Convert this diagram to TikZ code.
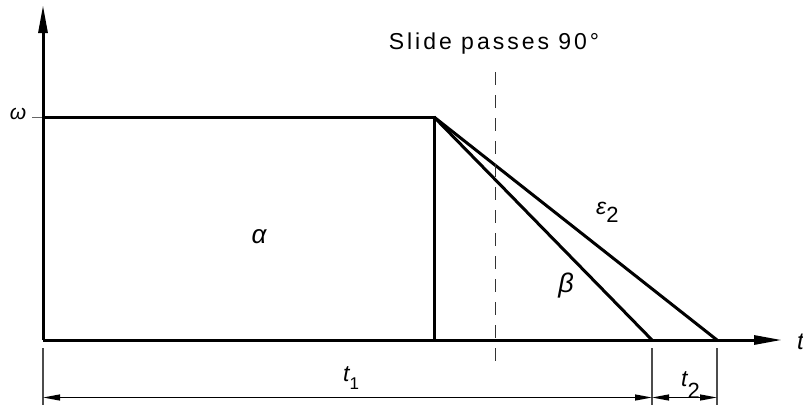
\documentclass[tikz,border=0pt]{standalone}
\usepackage{fontspec}
\setmainfont{Liberation Sans}
\newfontfamily\spaced[LetterSpace=13]{Liberation Sans}
\usetikzlibrary{arrows.meta}
\tikzset{
  axis/.style={line width=3pt, -{Triangle[length=28pt,width=9pt]}},
  thick line/.style={line width=3pt, line join=miter},
  dimline/.style={line width=1.2pt, {Triangle[length=17pt,width=6pt]}-{Triangle[length=17pt,width=6pt]}},
  extline/.style={line width=1.2pt, black!70},
  lbl/.style={inner sep=0pt, font=\itshape},
}
\newcommand{\fs}[1]{\fontsize{#1}{#1}\selectfont}
\begin{document}
\begin{tikzpicture}[x=1pt,y=-1pt]
\useasboundingbox (0,0) rectangle (803,410);
% key points
\coordinate (O) at (43,340);
\coordinate (Ytop) at (43,5);
\coordinate (Xend) at (782,340);
\coordinate (W) at (43,117);
\coordinate (P) at (434,117);
\coordinate (Pb) at (434,340);
\coordinate (B) at (652,340);
\coordinate (E) at (717,340);
\coordinate (Tk) at (32,117);
\coordinate (Dtop) at (495,72);
\coordinate (Dbot) at (495,370);
% extension line ends
\coordinate (e1t) at (43,348);  \coordinate (e1b) at (43,405);
\coordinate (e2t) at (652,348); \coordinate (e2b) at (652,405);
\coordinate (e3t) at (717,348); \coordinate (e3b) at (717,405);
\coordinate (d1) at (43,397.5); \coordinate (d2) at (652,397.5); \coordinate (d3) at (717,397.5);

% tick
\draw[line width=1pt, black!60] (Tk) -- (W);
% axes
\draw[axis] (O) -- (Ytop);
\draw[axis] (O) -- (Xend);
% rectangle and slopes
\draw[thick line] (W) -- (P) -- (Pb);
\draw[thick line] (P) -- (B);
\draw[thick line] (P) -- (E);
% dashed line
\draw[line width=1pt, black!80, dash pattern=on 13pt off 10pt] (Dtop) -- (Dbot);
% dimensions
\draw[extline] (e1t) -- (e1b);
\draw[extline] (e2t) -- (e2b);
\draw[extline] (e3t) -- (e3b);
\draw[dimline] (d1) -- (d2);
\draw[dimline] (d2) -- (d3);

% labels
\node[inner sep=0pt] (slide) at (494,44) {\fs{23}\spaced Slide passes 90°};
\node[lbl] (omega) at (18,114) {\fs{21}ω};
\node[lbl] (alpha) at (259,237) {\fs{26}α};
\node[lbl] (beta) at (566,286) {\fs{27}β};
\node[lbl, anchor=base west] (eps) at (596,214) {\fs{23}ε\raisebox{-8pt}{\upshape\fs{22}2}};
\node[lbl, anchor=base west] (t1) at (343,381) {\fs{23}t\raisebox{-8pt}{\upshape\fs{17}1}};
\node[lbl, anchor=base west] (t2) at (681,386) {\fs{23}t\raisebox{-12pt}{\upshape\fs{22}2}};
\node[lbl, anchor=base west] (t) at (797,349) {\fs{24}t};
\end{tikzpicture}
\end{document}
